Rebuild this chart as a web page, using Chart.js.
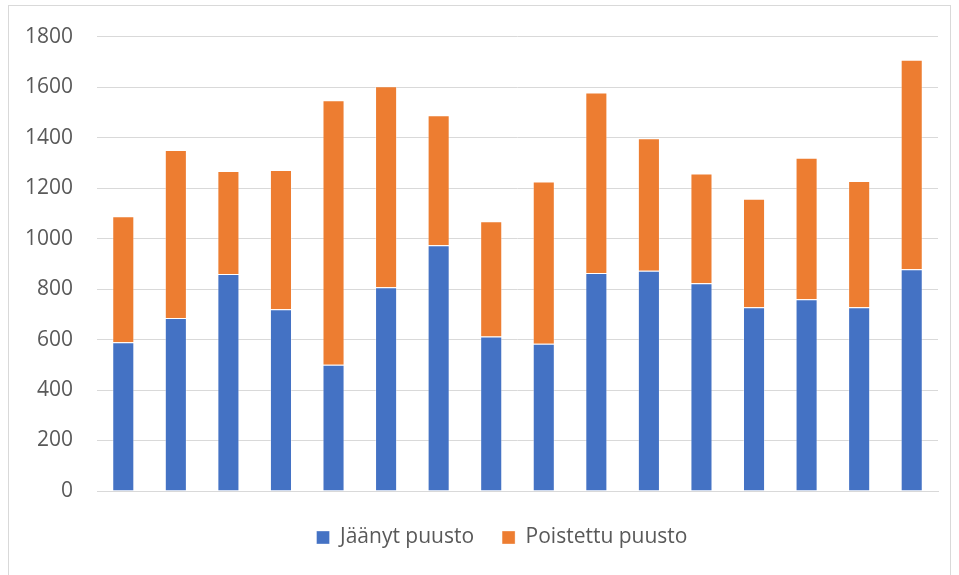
<!DOCTYPE html>
<html>
<head>
<meta charset="utf-8">
<script src="https://cdn.jsdelivr.net/npm/chart.js@4.4.1/dist/chart.umd.min.js"></script>
<style>
    html, body { margin: 0; padding: 0; background: #fff; }
    #wrap { position: relative; width: 959px; height: 575px; overflow: hidden; }
    #frame { position: absolute; left: 8px; top: 5px; width: 943px; height: 600px; border: 1px solid #d9d9d9; box-sizing: border-box; }
    canvas { position: absolute; left: 0; top: 0; }
</style>
</head>
<body>
<div id="wrap">
    <div id="frame"></div>
    <canvas id="chart" width="959" height="575"></canvas>
</div>
<script>
const categories = ['1', '2', '3', '4', '5', '6', '7', '8', '9', '10', '11', '12', '13', '14', '15', '16'];
const jaanyt = [589, 685, 860, 720, 500, 807, 973, 612, 583, 864, 872, 823, 728, 760, 728, 878];
const poistettu = [499, 666, 408, 552, 1048, 796, 515, 457, 643, 715, 525, 435, 430, 560, 500, 830];
const y_ticks = [0, 200, 400, 600, 800, 1000, 1200, 1400, 1600, 1800];

const font_family = "'Open Sans', sans-serif";
const text_color = '#595959';
const grid_color = '#d9d9d9';

// legend sits centred under the plot area, not the whole canvas
const shift_legend = {
    id: 'shift_legend',
    afterLayout(chart) {
        const dx = 33;
        chart.legend.left += dx;
        chart.legend.right += dx;
    }
};

const ctx = document.getElementById('chart').getContext('2d');
new Chart(ctx, {
    type: 'bar',
    data: {
        labels: categories,
        datasets: [{
            label: 'Jäänyt puusto',
            data: jaanyt,
            backgroundColor: '#4472c4',
            borderColor: 'rgba(255,255,255,0.35)',
            borderWidth: 1,
            barPercentage: 0.42,
            categoryPercentage: 1.0
        }, {
            label: 'Poistettu puusto',
            data: poistettu,
            backgroundColor: '#ed7d31',
            borderColor: 'rgba(255,255,255,0.35)',
            borderWidth: 1,
            barPercentage: 0.42,
            categoryPercentage: 1.0
        }]
    },
    options: {
        responsive: false,
        animation: false,
        layout: {
            padding: { left: 0, right: 21, top: 35, bottom: 17 }
        },
        scales: {
            x: {
                stacked: true,
                ticks: { display: false },
                grid: { display: false },
                border: { display: true, color: grid_color, width: 1 }
            },
            y: {
                stacked: true,
                min: 0,
                max: 1800,
                afterBuildTicks: function (scale) {
                    scale.ticks = y_ticks.map(v => ({ value: v }));
                },
                afterFit: function (scale) {
                    scale.width = 97;
                },
                ticks: {
                    color: text_color,
                    padding: 24,
                    font: { family: font_family, size: 21 },
                    callback: v => String(v)
                },
                grid: { color: grid_color, lineWidth: 1, drawTicks: false },
                border: { display: false }
            }
        },
        plugins: {
            legend: {
                position: 'bottom',
                labels: {
                    color: text_color,
                    boxWidth: 13,
                    boxHeight: 13,
                    padding: 28,
                    font: { family: font_family, size: 21 }
                }
            },
            tooltip: { enabled: false }
        }
    },
    plugins: [shift_legend]
});
</script>
</body>
</html>
